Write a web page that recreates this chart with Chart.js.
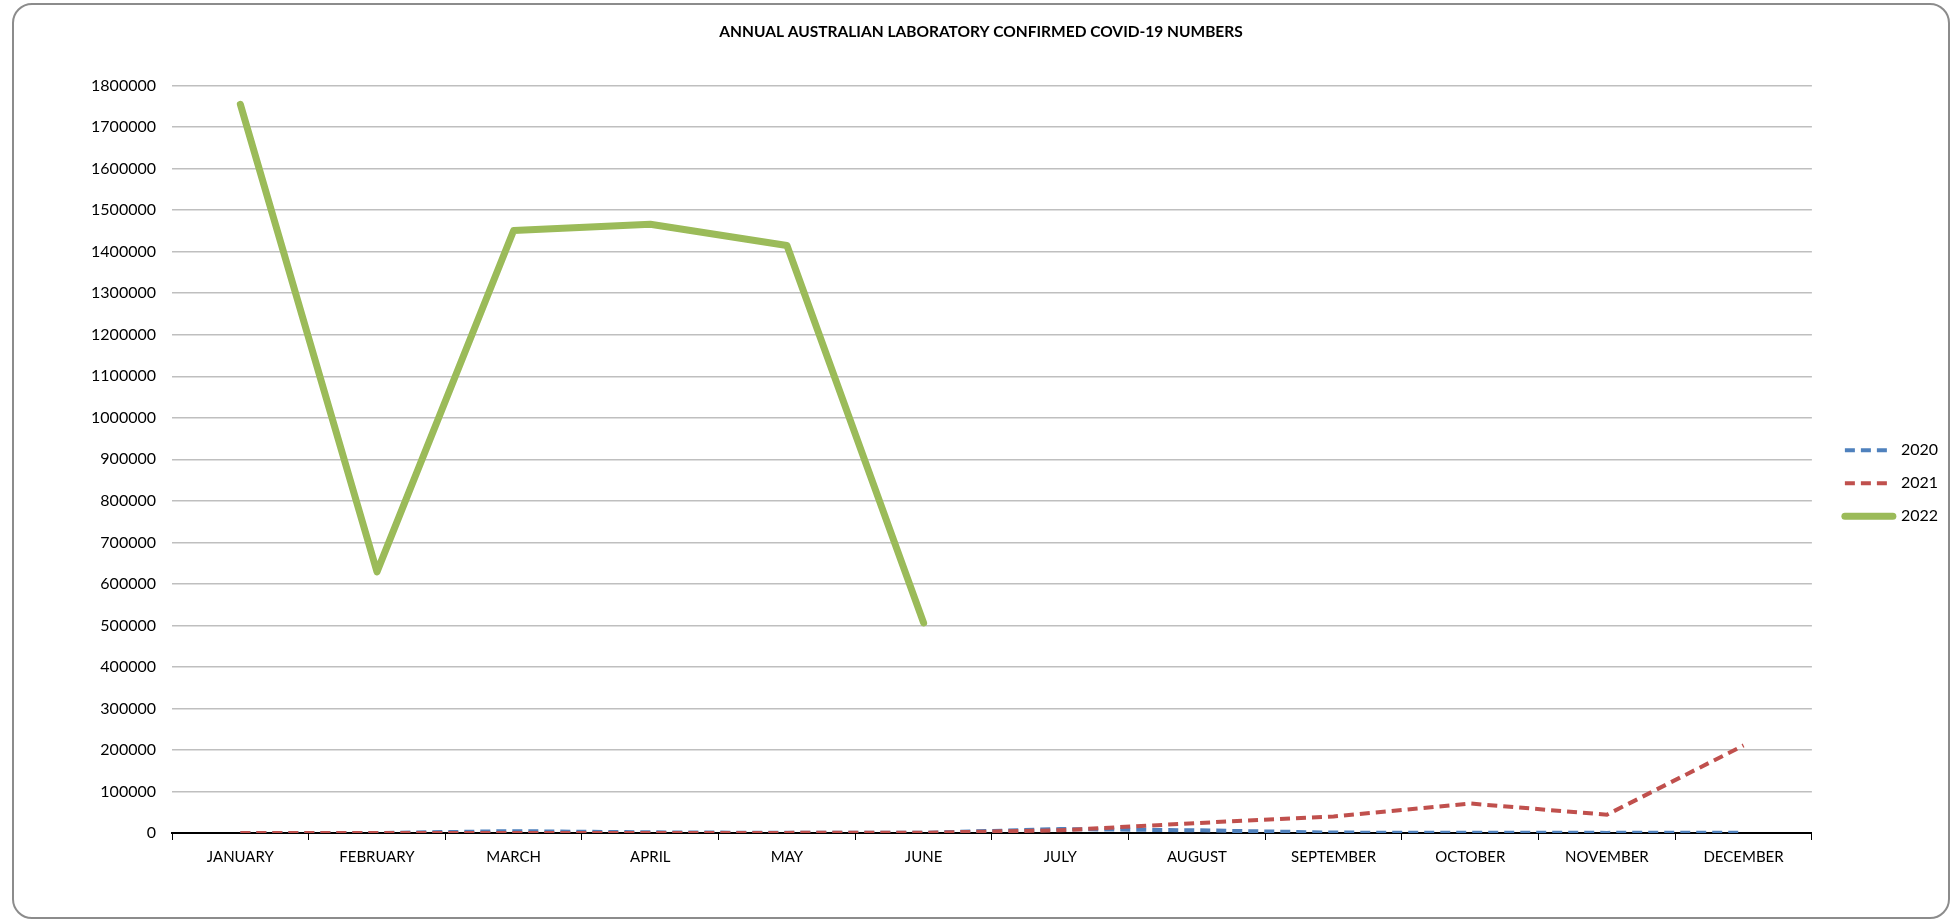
<!DOCTYPE html>
<html>
<head>
<meta charset="utf-8">
<script src="https://cdn.jsdelivr.net/npm/chart.js@4.4.1/dist/chart.umd.min.js"></script>
<style>
  body { margin: 0; background: #fff; }
  .frame {
    position: absolute;
    left: 12px;
    top: 3px;
    width: 1934px;
    height: 912px;
    border: 2px solid #8c8c8c;
    border-radius: 20px;
    background: #fff;
  }
</style>
</head>
<body>
<div class="frame">
  <canvas id="covidChart"></canvas>
</div>
<script>
// Monthly laboratory confirmed cases
const months = ['JANUARY', 'FEBRUARY', 'MARCH', 'APRIL', 'MAY', 'JUNE', 'JULY', 'AUGUST', 'SEPTEMBER', 'OCTOBER', 'NOVEMBER', 'DECEMBER'];
const cases2020 = [9, 20, 4500, 1600, 400, 500, 9500, 6500, 1000, 400, 300, 500];
const cases2021 = [300, 200, 250, 300, 300, 600, 6500, 24000, 40000, 71000, 44000, 211000];
const cases2022 = [1755000, 629000, 1451000, 1466000, 1415000, 506000];

const ctx = document.getElementById('covidChart').getContext('2d');
const covidChart = new Chart(ctx, {
  type: 'line',
  data: {
    labels: months,
    datasets: [{
      label: '2020',
      data: cases2020,
      borderColor: '#4f81bd',
      backgroundColor: '#4f81bd',
      borderWidth: 4,
      borderDash: [10, 6],
      pointRadius: 0,
      tension: 0,
      order: 3
    }, {
      label: '2021',
      data: cases2021,
      borderColor: '#c0504d',
      backgroundColor: '#c0504d',
      borderWidth: 4,
      borderDash: [10, 6],
      pointRadius: 0,
      tension: 0,
      order: 2
    }, {
      label: '2022',
      data: cases2022,
      borderColor: '#9bbb59',
      backgroundColor: '#9bbb59',
      borderWidth: 7,
      borderCapStyle: 'round',
      borderJoinStyle: 'round',
      pointRadius: 0,
      tension: 0,
      order: 1
    }]
  },
  options: {
    responsive: true,
    maintainAspectRatio: false,
    animation: false,
    layout: {
      padding: { left: 0, right: 0, top: 10, bottom: 43 }
    },
    scales: {
      x: {
        offset: true,
        grid: {
          offset: true,
          drawOnChartArea: false,
          drawTicks: true,
          tickLength: 7,
          color: '#000'
        },
        border: { color: '#000', width: 2 },
        ticks: {
          color: '#000',
          font: { family: 'Lato', size: 15 },
          padding: 8,
          maxRotation: 0
        }
      },
      y: {
        min: 0,
        max: 1800000,
        afterFit: (scale) => { scale.width = 158; },
        grid: {
          color: '#bfbfbf',
          lineWidth: 1.5,
          drawTicks: false
        },
        border: { display: false },
        ticks: {
          stepSize: 100000,
          color: '#000',
          font: { family: 'Lato', size: 16 },
          padding: 16,
          callback: (value) => String(value)
        }
      },
      // empty axis, only keeps a gap between plot and legend
      gap: {
        position: 'right',
        grid: { display: false },
        border: { display: false },
        ticks: { display: false },
        afterFit: (scale) => { scale.width = 16; }
      }
    },
    plugins: {
      title: {
        display: true,
        text: 'ANNUAL AUSTRALIAN LABORATORY CONFIRMED COVID-19 NUMBERS',
        color: '#000',
        font: { family: 'Lato', size: 15.5, weight: 'bold' },
        padding: { top: 8, bottom: 44 }
      },
      legend: {
        position: 'right',
        title: {
          display: true,
          text: '',
          padding: { top: 0, bottom: 63 }
        },
        labels: {
          usePointStyle: true,
          pointStyle: 'line',
          pointStyleWidth: 48,
          color: '#000',
          font: { family: 'Lato', size: 16 },
          padding: 17,
          sort: (a, b) => a.datasetIndex - b.datasetIndex,
          generateLabels: (chart) => Chart.defaults.plugins.legend.labels.generateLabels(chart).map((item) => {
            const ds = chart.data.datasets[item.datasetIndex];
            item.strokeStyle = ds.borderColor;
            item.lineWidth = ds.borderWidth;
            item.lineDash = ds.borderDash || [];
            item.lineCap = ds.borderCapStyle || 'butt';
            return item;
          })
        }
      },
      tooltip: { enabled: false }
    }
  }
});
</script>
</body>
</html>
